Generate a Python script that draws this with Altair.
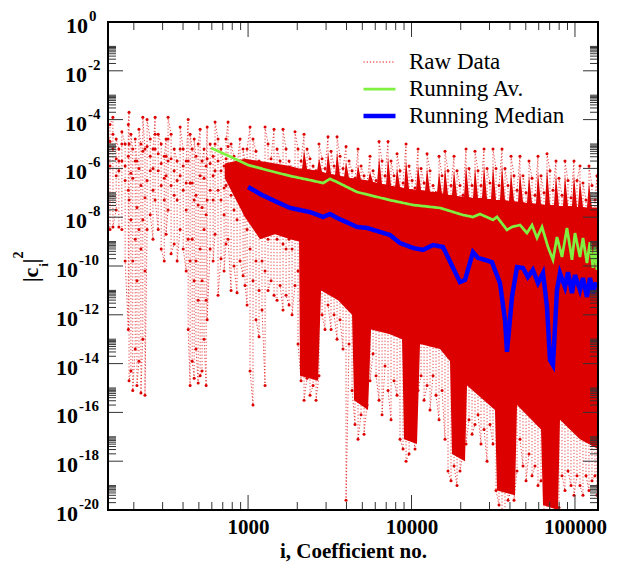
import altair as alt
import pandas as pd

# ---------------- data ----------------
SERIES = ["Raw Data", "Running Av.", "Running Median"]
RED, GREEN, BLUE = "#dd0000", "#80f040", "#0000ff"

# Running average (x = coefficient index, e = log10 |c_i|^2)
avg_x = [594, 809, 1000, 1307, 1806, 2393, 2877, 3172, 3502, 4645,
         7385, 10210, 14935, 20650, 23770, 26235, 31510, 33340, 38370, 41170,
         46085, 50860, 54590, 58560, 62830, 68370, 73350, 77600, 83290, 89330,
         95850, 100000, 107290, 111930, 118380, 123520, 128820, 132530, 136300]
avg_e = [-5.16, -5.57, -5.86, -6.07, -6.31, -6.48, -6.60, -6.43, -6.56, -6.97,
         -7.30, -7.50, -7.62, -7.91, -7.99, -7.87, -8.11, -7.99, -8.52, -8.40,
         -8.32, -8.65, -8.32, -8.85, -8.40, -9.22, -9.75, -8.81, -9.63, -8.44,
         -9.75, -8.65, -9.63, -8.85, -9.88, -9.02, -10.08, -9.22, -10.16]

# Running median
med_x = [1000, 1217, 1504, 1806, 2393, 2877, 3172, 3502, 4645, 5343,
         7385, 8502, 10210, 11760, 13540, 15580, 17960, 19795, 21240, 23770,
         25510, 28150, 31040, 34770, 37310, 38370, 41170, 44190, 48080, 51480,
         55240, 59400, 63720, 67440, 70316, 73350, 77600, 80950, 86860, 90620,
         95850, 100000, 107290, 111930, 118380, 123520, 128820, 134400]
med_e = [-6.76, -7.09, -7.38, -7.62, -7.79, -7.99, -7.87, -8.03, -8.40, -8.44,
         -8.73, -9.06, -9.26, -9.34, -9.14, -9.22, -10.08, -10.66, -10.57, -9.43,
         -9.67, -9.75, -9.84, -10.70, -12.21, -13.52, -11.27, -10.04, -10.08, -10.45,
         -10.16, -10.70, -10.29, -11.68, -13.85, -14.06, -10.98, -10.29, -10.86, -10.25,
         -11.11, -10.37, -10.98, -10.49, -11.27, -10.49, -11.11, -10.66]

# Raw data strands: x, and log10 of high / middle / low samples around it
raw_x = [139, 143, 149, 156, 162, 169, 177, 185, 187, 192,
         197, 204, 209, 215, 221, 227, 234, 241, 252, 262,
         270, 282, 294, 307, 315, 324, 338, 353, 368, 384,
         401, 418, 430, 442, 455, 468, 480, 495, 509, 523,
         538, 554, 562, 586, 611, 628, 655, 683, 713, 733,
         754, 787, 820, 856, 893, 932, 958,
         986, 1028, 1072, 1118, 1167, 1217, 1270, 1325, 1382, 1441,
         1504, 1569, 1636, 1707, 1781, 1858, 1937, 2021, 2109, 2200,
         2295, 2393, 2497, 2605, 2717, 2835, 2956, 3084, 3218, 3357,
         3502, 3652, 3810, 3975, 4147, 4326, 4511, 4706, 4910, 5122,
         5343, 5572, 5815, 6065, 6327, 6601, 6883, 7182, 7492, 7816,
         8154, 8502, 8873, 9256, 9656, 10073, 10502, 10960, 11436, 11930,
         12446, 12973, 13536, 14122, 14733, 15370, 16025, 16720, 17440, 18200,
         18980, 19795, 20650, 21550, 22470, 23450, 24451, 25510, 26610, 27770,
         28970, 30203, 31510, 32880, 34290, 35780, 37308, 38930, 40610, 42360,
         44190, 46085, 48080, 50160, 52330, 54590, 56925, 59400, 61970, 64640,
         67440, 70316, 73350, 76520, 79840, 83290, 86857, 90620, 94530, 98600,
         102880, 107293, 111930, 116770, 121810, 127080, 132532, 136300]
raw_hi = [-4.8, -4.2, -3.9, -4.8, -5.2, -4.5, -5.0, -4.2, -3.7, -4.6,
          -5.2, -4.8, -5.7, -4.4, -5.0, -3.9, -5.2, -4.0, -4.8, -5.2,
          -3.9, -4.6, -5.0, -5.5, -4.8, -3.9, -4.6, -5.2, -5.7, -4.3,
          -5.2, -5.7, -4.0, -4.6, -5.2, -4.8, -5.5, -5.0, -4.4, -5.7,
          -5.2, -5.9, -4.3, -5.0, -5.5, -4.1, -4.8, -5.2, -5.9, -4.8,
          -4.1, -5.0, -5.5, -5.9, -4.8, -5.2, -5.7,
          -5.2, -4.3, -4.8, -5.3, -5.7, -5.9, -4.3, -5.0, -5.6, -4.4,
          -5.2, -5.7, -4.4, -5.2, -5.7, -6.0, -4.5, -5.2, -5.7, -4.6,
          -5.2, -5.6, -5.9, -6.1, -5.0, -5.6, -6.0, -4.7, -5.3, -5.9,
          -4.7, -5.5, -6.0, -5.1, -5.7, -6.1, -6.4, -5.2, -5.9, -6.3,
          -6.6, -5.5, -6.1, -6.5, -4.9, -5.7, -6.3, -4.9, -5.7, -6.3,
          -5.4, -6.1, -6.6, -5.0, -5.9, -6.5, -6.8, -5.2, -6.0, -6.6,
          -5.4, -6.1, -6.7, -7.0, -5.5, -6.3, -5.3, -6.1, -6.7, -5.5,
          -6.1, -6.7, -7.1, -5.2, -6.0, -6.7, -5.3, -6.1, -6.7, -5.2,
          -6.0, -6.6, -5.2, -6.0, -6.7, -5.2, -6.0, -6.7, -5.5, -6.3,
          -6.9, -5.5, -6.3, -7.0, -5.7, -6.4, -7.1, -5.5, -6.3, -7.0,
          -5.4, -6.1, -6.9, -5.7, -6.4, -7.1, -5.7, -6.5, -7.2, -5.7,
          -6.5, -5.9, -6.6, -7.3, -5.9, -6.7, -7.3, -6.3]
# extra scattered samples in the sparse low-index part (first 57 strands)
raw_mid2 = [-5.4, -4.9, -4.6, -5.6, -5.7, -5.0, -5.9, -5.5, -5.0, -6.2,
            -6.4, -5.7, -7.6, -6.0, -6.7, -5.3, -7.2, -5.1, -5.5, -6.0,
            -4.6, -5.4, -5.8, -6.4, -5.5, -4.8, -5.6, -6.1, -6.5, -5.2,
            -5.9, -6.6, -5.7, -6.6, -6.6, -7.3, -7.1, -7.5, -6.3, -7.6,
            -6.4, -7.9, -5.6, -5.8, -6.3, -5.0, -5.7, -6.1, -6.8, -5.6,
            -5.1, -5.9, -6.5, -6.9, -5.7, -6.1, -6.7]
raw_mid = [-5.7, -5.9, -5.2, -6.3, -6.1, -5.7, -6.5, -6.9, -7.3, -8.1,
           -9.8, -8.9, -10.6, -8.5, -9.3, -8.1, -10.2, -6.5, -6.1, -6.9,
           -5.2, -6.1, -6.7, -7.3, -6.3, -5.7, -6.7, -7.1, -7.3, -6.3,
           -6.9, -7.7, -8.9, -9.8, -8.9, -10.6, -9.8, -11.4, -9.3, -10.6,
           -8.5, -11.4, -7.3, -6.9, -7.3, -6.1, -6.9, -7.3, -7.9, -6.7,
           -6.3, -7.1, -7.7, -8.1, -6.9, -7.3, -7.9,
           -8.5, -9.3, -10.6, -9.8, -11.0, -9.8, -10.2, -8.9, -8.5, -8.3,
           -8.9, -8.5, -9.1, -9.3, -8.9, -9.3, -8.3, -10.2, -11.4, -12.2,
           -11.0, -11.8, -11.4, -12.6, -11.0, -9.5, -10.2, -9.1, -10.0, -9.5,
           -10.6, -9.8, -10.8, -11.4, -10.8, -11.4, -12.2, -12.8, -12.0, -13.0,
           -11.8, -11.4, -10.8, -11.4, -11.0, -12.0, -10.8, -11.4, -12.0, -11.0,
           -11.4, -12.2, -12.4, -12.8, -12.6, -12.0, -12.8, -11.4, -11.0, -11.6,
           -11.4, -12.0, -11.2, -11.6, -12.2, -11.4, -12.4, -13.2, -13.6, -13.4,
           -13.9, -13.2, -12.6, -12.8, -12.2, -12.8, -13.0, -12.4, -13.2, -12.6,
           -13.4, -12.8, -13.6, -14.9, -15.5, -15.1, -15.5, -14.5, -14.1, -14.7,
           -13.6, -13.2, -13.0, -13.9, -13.2, -14.1, -13.4, -14.3, -14.1, -15.3,
           -14.9, -15.5, -14.9, -14.5, -15.1, -13.6, -14.1, -13.4, -14.1, -14.3,
           -13.6, -14.1, -14.5, -13.6, -13.9, -14.3, -13.6, -14.1]
raw_lo = [-8.4, -8.5, -8.4, -7.7, -8.4, -8.5, -9.8, -12.6, -14.7, -14.3,
          -15.1, -13.4, -14.9, -13.9, -15.2, -13.0, -15.3, -8.5, -7.9, -8.9,
          -7.3, -8.5, -9.3, -9.8, -8.7, -7.7, -9.5, -9.1, -9.8, -8.5,
          -9.3, -10.2, -12.6, -14.9, -13.9, -14.6, -13.4, -14.8, -14.5, -14.3,
          -13.0, -14.9, -12.2, -9.3, -9.8, -8.7, -11.2, -9.7, -10.2, -9.1,
          -8.9, -11.0, -10.0, -11.1, -9.8, -10.4, -10.8,
          -11.6, -14.3, -15.7, -12.2, -12.9, -11.8, -14.9, -11.0, -10.6, -11.2,
          -11.4, -10.8, -11.8, -11.2, -11.6, -12.0, -10.8, -13.2, -14.7, -15.5,
          -14.6, -15.3, -14.9, -15.5, -14.5, -12.0, -12.6, -11.6, -12.6, -12.0,
          -13.0, -12.2, -13.4, -19.6, -13.2, -15.1, -16.5, -17.1, -16.1, -16.9,
          -15.7, -14.7, -13.6, -14.5, -15.5, -16.1, -14.1, -15.1, -16.3, -14.7,
          -15.3, -17.1, -17.5, -18.0, -17.7, -16.7, -17.5, -15.1, -14.5, -15.5,
          -14.9, -15.9, -14.5, -15.3, -16.3, -15.1, -17.1, -18.4, -18.8, -18.2,
          -19.0, -18.4, -17.7, -17.3, -16.3, -16.9, -16.5, -16.1, -17.3, -16.7,
          -18.0, -16.5, -17.3, -19.2, -19.8, -20.1, -20.1, -19.6, -19.2, -19.6,
          -18.4, -17.1, -18.2, -18.8, -17.7, -18.6, -18.2, -19.0, -18.8, -20.1,
          -20.1, -20.1, -19.8, -20.1, -19.9, -18.6, -19.2, -18.4, -19.0, -19.4,
          -18.6, -19.0, -19.4, -18.6, -19.2, -18.8, -18.6, -19.4]

# Saturated core of the raw data cloud: x, log10 top, log10 bottom
core_x = [720, 958, 1183, 1462, 1806, 2051, 2079, 2680, 2796, 3552, 4326,
          4449, 5418, 5653, 7385, 8748, 8999, 10803, 11270, 14935, 17194,
          17686, 21239, 21846, 32407, 33340, 42951, 44190, 61970, 63720, 78700,
          80951, 107293, 138300]
core_top = [-5.8, -5.6, -5.7, -5.8, -5.9, -6.0, -6.0, -6.1, -6.15, -6.3, -6.4,
            -6.4, -6.5, -6.55, -6.7, -6.8, -6.8, -6.9, -6.9, -7.0, -7.1,
            -7.1, -7.2, -7.2, -7.3, -7.3, -7.4, -7.4, -7.5, -7.5, -7.55,
            -7.55, -7.6, -7.6]
core_bot = [-6.4, -8.0, -8.9, -8.7, -8.9, -9.0, -14.5, -14.7, -11.0, -11.4, -12.0,
            -15.5, -15.9, -12.6, -12.8, -13.0, -17.1, -17.3, -13.2, -13.4, -13.9,
            -17.7, -18.0, -14.9, -15.9, -19.2, -19.4, -15.7, -16.7, -19.8, -20.0,
            -16.3, -17.1, -17.5]

# Saturated "teeth" on top of the core (base, peak, base for each tooth)
teeth_x = [2139, 2200, 2295, 2642, 2718, 2835, 2999, 3085, 3218, 3405,
           3502, 3653, 3865, 3976, 4147, 4577, 4708, 4910, 5418, 5574,
           5815, 6152, 6328, 6600, 6982, 7182, 7492, 7927, 8153, 8503,
           8999, 9254, 9654, 10654, 10957, 11432, 12092, 12437, 12974, 14318,
           14731, 15367, 15584, 16028, 16718, 17686, 18195, 18973, 20945, 21543,
           22470, 23777, 24455, 25510, 26986, 27757, 28956, 30637, 31514, 32871,
           34767, 35764, 37307, 39478, 40605, 42356, 44803, 46086, 48077, 50862,
           52315, 54579, 57728, 59373, 61944, 65540, 67416, 70307, 74365, 76487,
           79803, 84433, 86850, 90603, 95854, 98587, 102850, 104310, 107280, 111920,
           118380, 121770, 127040]
teeth_e = [-6.02, -5.25, -6.02, -6.11, -5.57, -6.15, -6.19, -5.33, -6.23, -6.27,
           -5.33, -6.31, -6.35, -5.74, -6.39, -6.43, -5.86, -6.48, -6.52, -6.15,
           -6.56, -6.60, -5.53, -6.64, -6.68, -5.53, -6.72, -6.76, -5.98, -6.76,
           -6.80, -5.66, -6.84, -6.89, -5.86, -6.89, -6.93, -5.98, -6.97, -7.01,
           -6.15, -7.05, -7.05, -5.94, -7.09, -7.09, -6.07, -7.13, -7.17, -5.86,
           -7.17, -7.21, -5.94, -7.21, -7.21, -5.86, -7.25, -7.25, -5.86, -7.30,
           -7.30, -5.86, -7.30, -7.34, -6.15, -7.34, -7.38, -6.15, -7.38, -7.42,
           -6.27, -7.42, -7.46, -6.15, -7.46, -7.50, -5.98, -7.50, -7.50, -6.27,
           -7.54, -7.54, -6.27, -7.54, -7.54, -6.27, -7.58, -7.58, -6.48, -7.58,
           -7.62, -6.56, -7.62]
teeth_floor = -9.0

# Axis ticks
x_major = [1000, 10000, 100000]
x_minor = [200, 300, 400, 500, 600, 700, 800, 900,
           2000, 3000, 4000, 5000, 6000, 7000, 8000, 9000,
           20000, 30000, 40000, 50000, 60000, 70000, 80000, 90000]
y_label_exp = [0, -2, -4, -6, -8, -10, -12, -14, -16, -18, -20]
y_minor_mult = [2, 3, 4, 5, 6, 7, 8, 9, 10]

# ---------------- tables ----------------
rows = []
k = 0
for i, (x, hi, mid, lo) in enumerate(zip(raw_x, raw_hi, raw_mid, raw_lo)):
    down = [hi, raw_mid2[i], mid, lo] if i < len(raw_mid2) else [hi, mid, lo]
    seq = down if i % 2 == 0 else down[::-1]
    for e in seq:
        rows.append({"x": x, "y": 10.0 ** e, "idx": k, "series": SERIES[0]})
        k += 1
raw_df = pd.DataFrame(rows)
avg_df = pd.DataFrame({"x": avg_x, "y": [10.0 ** e for e in avg_e], "series": SERIES[1]})
med_df = pd.DataFrame({"x": med_x, "y": [10.0 ** e for e in med_e], "series": SERIES[2]})
core_df = pd.DataFrame({"x": core_x, "top": [10.0 ** e for e in core_top],
                        "bot": [10.0 ** e for e in core_bot]})
teeth_df = pd.DataFrame({"x": teeth_x, "top": [10.0 ** e for e in teeth_e],
                         "bot": 10.0 ** teeth_floor})
xmaj_df = pd.DataFrame({"v": x_major})
xmin_df = pd.DataFrame({"v": x_minor})
ymaj_df = pd.DataFrame({"v": [10.0 ** e for e in y_label_exp], "ex": [str(e) for e in y_label_exp]})
ymin_df = pd.DataFrame({"v": [m * 10.0 ** e for e in y_label_exp[1:] for m in y_minor_mult]})

# ---------------- chart ----------------
W, H = 490, 488
FONT = "Liberation Serif"
xs = alt.Scale(type="log", domain=[139, 138300], nice=False)
ys = alt.Scale(type="log", domain=[1e-20, 1], nice=False)

xaxis = alt.Axis(values=x_major, format="d", labelFont=FONT, labelFontWeight="bold",
                 labelFontSize=21, labelColor="black", ticks=False, tickSize=0, domain=False,
                 grid=False, labelPadding=6, labelFlush=False, title="i, Coefficient no.",
                 titleFont=FONT, titleFontWeight="bold", titleFontSize=21, titleColor="black",
                 titlePadding=3)


def X(field):
    return alt.X(field, scale=xs, axis=xaxis)


def Y(field):
    return alt.Y(field, scale=ys, axis=None)


leg = alt.Legend(title=None, orient="none", legendX=253, legendY=28, symbolType="stroke",
                 symbolSize=1024, labelFont=FONT, labelFontSize=23, labelColor="black",
                 labelOffset=11, clipHeight=24, rowPadding=3, padding=0)
color_enc = alt.Color("series:N", scale=alt.Scale(domain=SERIES, range=[RED, GREEN, BLUE]), legend=leg)
dash_enc = alt.StrokeDash("series:N", scale=alt.Scale(domain=SERIES, range=[[1.2, 2], [1, 0], [1, 0]]), legend=leg)
width_enc = alt.StrokeWidth("series:N", scale=alt.Scale(domain=SERIES, range=[1.0, 4.5, 4.5]), legend=leg)

band = alt.Chart(core_df).mark_area(color=RED, clip=True).encode(
    x=X("x:Q"), y=Y("top:Q"), y2="bot:Q")

teeth = alt.Chart(teeth_df).mark_area(color=RED, clip=True).encode(
    x=X("x:Q"), y=Y("top:Q"), y2="bot:Q")

raw_line = alt.Chart(raw_df).mark_line(clip=True, strokeOpacity=0.75).encode(
    x=X("x:Q"), y=Y("y:Q"),
    order="idx:Q", color=color_enc, strokeDash=dash_enc, strokeWidth=width_enc)

raw_pts = alt.Chart(raw_df).mark_circle(size=9, color=RED, opacity=1, clip=True).encode(
    x=X("x:Q"), y=Y("y:Q"))

avg_line = alt.Chart(avg_df).mark_line(clip=True).encode(
    x=X("x:Q"), y=Y("y:Q"), color=color_enc, strokeDash=dash_enc, strokeWidth=width_enc)

med_line = alt.Chart(med_df).mark_line(clip=True).encode(
    x=X("x:Q"), y=Y("y:Q"), color=color_enc, strokeDash=dash_enc, strokeWidth=width_enc)

TICK = "#333333"


def xticks(df, ln):
    out = []
    for y0, y1 in [(H, H - ln), (0, ln)]:
        out.append(alt.Chart(df).mark_rule(color=TICK, strokeWidth=1).encode(
            x=X("v:Q"), y=alt.value(y0), y2=alt.value(y1)))
    return out


def yticks(df, ln):
    out = []
    for x0, x1 in [(0, ln), (W, W - ln)]:
        out.append(alt.Chart(df).mark_rule(color=TICK, strokeWidth=1).encode(
            y=Y("v:Q"), x=alt.value(x0), x2=alt.value(x1)))
    return out


tick_layers = xticks(xmaj_df, 15) + xticks(xmin_df, 8) + yticks(ymaj_df, 15) + yticks(ymin_df, 8)

label_layers = []
groups = [(["0"], -20), (["-2", "-4", "-6", "-8"], -21),
          (["-10", "-12", "-14", "-16", "-18", "-20"], -30)]
for names, off in groups:
    sub = ymaj_df[ymaj_df["ex"].isin(names)]
    label_layers.append(alt.Chart(sub).mark_text(
        align="right", baseline="middle", dx=off, dy=4, font=FONT, fontSize=22,
        fontWeight="bold", color="black").encode(
        x=alt.value(0), y=Y("v:Q"), text=alt.value("10")))
    label_layers.append(alt.Chart(sub).mark_text(
        align="left", baseline="middle", dx=off + 1, dy=-6, font=FONT, fontSize=15,
        fontWeight="bold", color="black").encode(
        x=alt.value(0), y=Y("v:Q"), text="ex:N"))

one = pd.DataFrame({"a": [0]})


def ttext(t, px, py, size):
    return alt.Chart(one).mark_text(angle=270, align="center", baseline="middle", font=FONT,
                                    fontSize=size, fontWeight="bold", color="black").encode(
        x=alt.value(px - 108), y=alt.value(py - 22), text=alt.value(t))


title_layers = [ttext("|c", 31, 275, 22), ttext("i", 44, 265, 13),
                ttext("|", 31, 261, 22), ttext("2", 19, 255, 14)]

frame = alt.Chart(one).mark_rect(fill=None, stroke="black", strokeWidth=2).encode(
    x=alt.value(0), x2=alt.value(W), y=alt.value(0), y2=alt.value(H))

chart = alt.layer(band, teeth, raw_line, raw_pts, avg_line, med_line, *tick_layers, frame,
                  *label_layers, *title_layers).properties(
    width=W, height=H,
    autosize=alt.AutoSizeParams(type="none"),
    padding={"left": 108, "top": 22, "right": 22, "bottom": 52},
).configure_view(stroke=None)

chart.save("out.html", embed_options={"renderer": "svg", "actions": False})
